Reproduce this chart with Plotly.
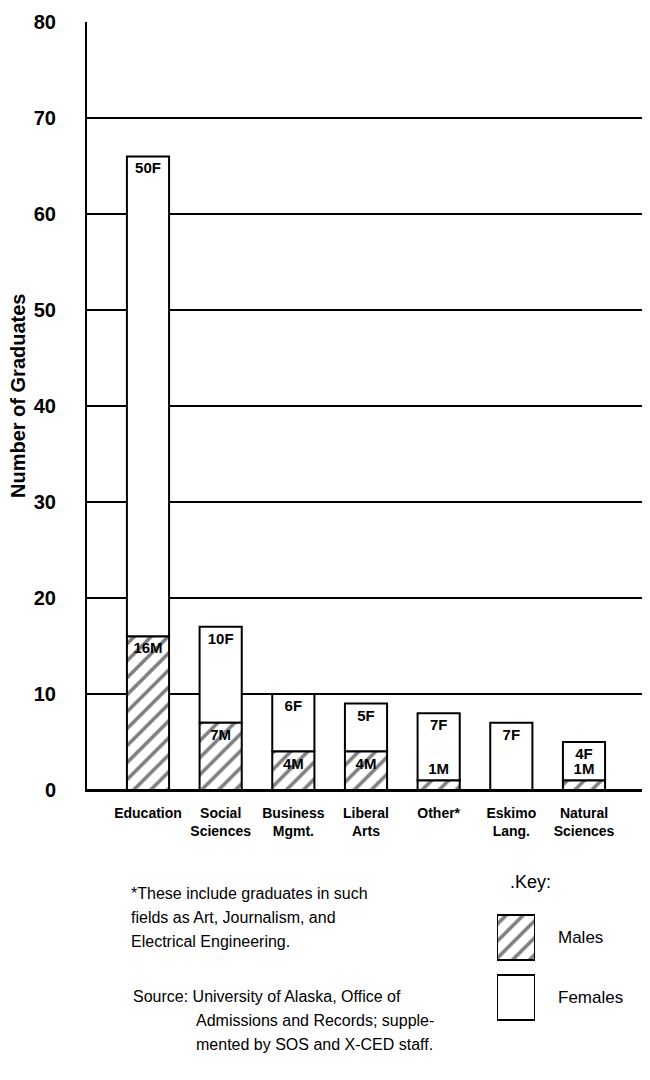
import plotly.graph_objects as go

# ---- data ----
CATEGORIES = ["Education", "Social<br>Sciences", "Business<br>Mgmt.", "Liberal<br>Arts",
              "Other*", "Eskimo<br>Lang.", "Natural<br>Sciences"]
MALES = [16, 7, 4, 4, 1, 0, 1]
FEMALES = [50, 10, 6, 5, 7, 7, 4]
Y_TICKS = [0, 10, 20, 30, 40, 50, 60, 70, 80]
KEY_LABELS = ["Males", "Females"]
KEY_VALUES = [1, 1]
FOOTNOTE = ["*These include graduates in such",
            "fields as Art, Journalism, and",
            "Electrical Engineering."]
SOURCE = ["Source: University of Alaska, Office of",
          "Admissions and Records; supple-",
          "mented by SOS and X-CED staff."]

# page body has an 8px margin: figure sized to fit the 650x1080 window
OFF = 8
W, H = 650 - OFF, 1080 - OFF
SANS = "Liberation Sans, Arial, sans-serif"


def px(x):
    return (x - OFF) / W


def py(y):
    return 1 - (y - OFF) / H


fig = go.Figure()

# females stacked on top of males (base = male count); drawn first so that
# the male labels stay visible when they overflow small segments
fig.add_trace(go.Bar(
    x=CATEGORIES, y=FEMALES, base=MALES, name="Females", width=0.58,
    text=[f"{v}F" if v else "" for v in FEMALES],
    textposition="inside", insidetextanchor="end", constraintext="none",
    textfont=dict(family=SANS, size=15, color="black", weight="bold"),
    marker=dict(color="white", line=dict(color="black", width=2)),
    showlegend=False,
))
fig.add_trace(go.Bar(
    x=CATEGORIES, y=MALES, name="Males", width=0.58,
    text=[f"{v}M" if v else "" for v in MALES],
    textposition=["inside" if v >= 2 else "outside" for v in MALES],
    insidetextanchor="end", constraintext="none", cliponaxis=False,
    textfont=dict(family=SANS, size=15, color="black", weight="bold"),
    marker=dict(color="white", line=dict(color="black", width=2),
                pattern=dict(shape="/", fgcolor="black", bgcolor="white",
                             size=12, solidity=0.3)),
    showlegend=False,
))

# key (legend) drawn as an inset
fig.add_trace(go.Bar(
    y=KEY_LABELS, x=KEY_VALUES, orientation="h", width=0.75,
    xaxis="x3", yaxis="y3", showlegend=False, hoverinfo="skip",
    marker=dict(color="white", line=dict(color="black", width=2),
                pattern=dict(shape=["/", ""], fgcolor="black", bgcolor="white",
                             size=12, solidity=0.3)),
))

n = len(CATEGORIES)
unit = (584 - 148) / (n - 1)
x_lo = -(148 - 87) / unit
x_hi = (n - 1) + (650 - 584) / unit

fig.update_layout(
    width=W, height=H,
    margin=dict(l=0, r=0, t=0, b=0),
    paper_bgcolor="white", plot_bgcolor="white",
    barmode="overlay",
    xaxis=dict(domain=[px(87), 1], range=[x_lo, x_hi], type="category",
               showgrid=False, showline=True, linecolor="black", linewidth=2,
               ticks="", ticklabelstandoff=9, automargin=False, tickangle=0,
               tickfont=dict(family=SANS, size=14, color="black", weight="bold")),
    yaxis=dict(domain=[py(790), py(22)], range=[0, 80], tickvals=Y_TICKS,
               showgrid=True, gridcolor="black", gridwidth=2,
               zeroline=True, zerolinecolor="black", zerolinewidth=2,
               showline=True, linecolor="black", linewidth=2,
               ticks="", ticklabelstandoff=25, automargin=False,
               tickfont=dict(family=SANS, size=20, color="black", weight="bold")),
    xaxis3=dict(domain=[px(497), px(535)], range=[0, 1], visible=False, anchor="y3"),
    yaxis3=dict(domain=[py(1027.5), py(907.5)], range=[1.5, -0.5], type="category",
                anchor="x3", side="right", showgrid=False, showline=False,
                zeroline=False, ticks="", ticklabelstandoff=22, automargin=False,
                tickfont=dict(family=SANS, size=17, color="black")),
)

ann = []
ann.append(dict(text="Number of Graduates", x=px(18), y=py(396), xref="paper", yref="paper",
                textangle=-90, showarrow=False, xanchor="center", yanchor="middle",
                font=dict(family=SANS, size=20, color="black", weight="bold")))
for i, line in enumerate(FOOTNOTE):
    ann.append(dict(text=line, x=px(129), y=py(893 + 24 * i), xref="paper", yref="paper",
                    showarrow=False, xanchor="left", yanchor="middle",
                    font=dict(family=SANS, size=16, color="black")))
for i, line in enumerate(SOURCE):
    ann.append(dict(text=line, x=px(131 if i == 0 else 194), y=py(996 + 24 * i),
                    xref="paper", yref="paper", showarrow=False,
                    xanchor="left", yanchor="middle",
                    font=dict(family=SANS, size=16, color="black")))
ann.append(dict(text=".Key:", x=px(508), y=py(882), xref="paper", yref="paper",
                showarrow=False, xanchor="left", yanchor="middle",
                font=dict(family=SANS, size=18, color="black")))
fig.update_layout(annotations=ann)

fig.write_html("out.html")
